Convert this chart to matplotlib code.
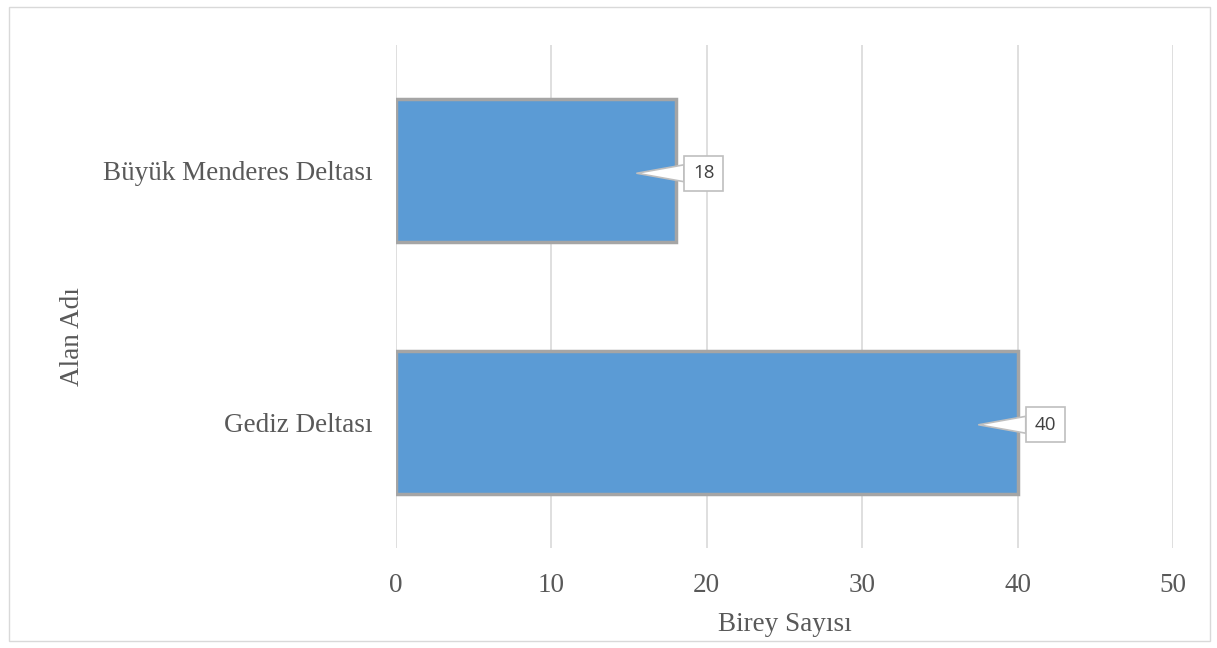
import matplotlib.pyplot as plt
from matplotlib.patches import Rectangle

# data
areas = ["Gediz Deltası", "Büyük Menderes Deltası"]
counts = [40, 18]
x_ticks = [0, 10, 20, 30, 40, 50]

text_color = "#595959"
grid_color = "#D9D9D9"

fig = plt.figure(figsize=(12.17, 6.48), dpi=100)
ax = fig.add_axes([0.3254, 0.1543, 0.6384, 0.7763])

ax.barh(range(len(areas)), counts, height=0.57, color="#5B9BD5",
        edgecolor="#A5A5A5", linewidth=2.5, zorder=3)

ax.set_xlim(0, 50)
ax.set_ylim(-0.5, 1.5)
ax.set_xticks(x_ticks)
ax.set_yticks(range(len(areas)))
ax.set_yticklabels(areas)
ax.grid(axis="x", color=grid_color, linewidth=1.2, zorder=0)
ax.set_axisbelow(True)
for s in ax.spines.values():
    s.set_visible(False)

ax.tick_params(axis="both", length=0, labelcolor=text_color, labelsize=19.5)
ax.tick_params(axis="x", pad=18)
ax.tick_params(axis="y", pad=17)
for lab in ax.get_xticklabels() + ax.get_yticklabels():
    lab.set_fontfamily("Liberation Serif")

ax.set_xlabel("Birey Sayısı", fontfamily="Liberation Serif", fontsize=19.5,
              color=text_color, labelpad=10)
ax.set_ylabel("Alan Adı", fontfamily="Liberation Serif", fontsize=19.5,
              color=text_color)
ax.yaxis.set_label_coords(-0.40, 0.42)

# callout labels
for i, v in enumerate(counts):
    ax.annotate(str(v), xy=(v - 2.5, i - 0.01), xytext=(v + 1.8, i - 0.01),
                ha="center", va="center", fontsize=13.5, color="#404040",
                fontfamily="Open Sans", zorder=5,
                bbox=dict(boxstyle="square,pad=0.45", fc="white", ec="#BFBFBF", lw=1.2),
                arrowprops=dict(arrowstyle="wedge,tail_width=0.9", fc="white",
                                ec="#BFBFBF", lw=1.2, shrinkA=0, shrinkB=0))

# outer frame
fig.patches.append(Rectangle((0.007, 0.011), 0.987, 0.978, transform=fig.transFigure,
                             fill=False, ec=grid_color, lw=1))

fig.savefig("out.png", dpi=100)
